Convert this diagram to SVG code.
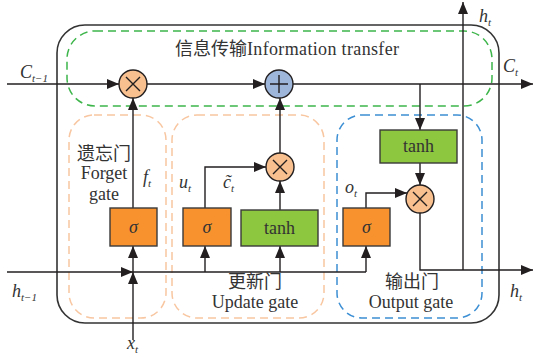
<svg xmlns="http://www.w3.org/2000/svg" width="534" height="358" viewBox="0 0 534 358">
<defs>
<marker id="ar" viewBox="0 0 12 10" refX="12" refY="5" markerWidth="12" markerHeight="10" markerUnits="userSpaceOnUse" orient="auto">
<path d="M0,0 L12,5 L0,10 Z" fill="#231F20"/>
</marker>
</defs>
<style>
.ln{fill:none;stroke:#231F20;stroke-width:1.4}
.arr{marker-end:url(#ar)}
.t{font-family:"Liberation Serif","Noto Sans CJK SC",serif;font-size:18px;fill:#333}
.it{font-family:"Liberation Serif",serif;font-style:italic;font-size:18px;fill:#333}
.sub{font-size:11px}
.sig{fill:#F7922F;stroke:#3a3a3a;stroke-width:1.4}
.tanh{fill:#8DC63F;stroke:#3a3a3a;stroke-width:1.4}
.mul{fill:#F9C08F;stroke:#231F20;stroke-width:1.4}
.add{fill:#9DB6DA;stroke:#231F20;stroke-width:1.4}
.sym{stroke:#231F20;stroke-width:1.4;fill:none}
.dash{fill:none;stroke-width:1.5;stroke-dasharray:8 5}
</style>
<rect width="534" height="358" fill="#fff"/>
<g id="cell"><rect x="57" y="25" width="442" height="298" rx="28" fill="none" stroke="#333" stroke-width="1.6"/></g>
<g id="info-transfer">
<rect class="dash" x="67" y="31" width="425" height="75" rx="28" stroke="#3DB54A"/>
<text class="t" x="175" y="55">信息传输<tspan textLength="152" lengthAdjust="spacing">Information transfer</tspan></text>
</g>
<g id="forget-gate">
<rect class="dash" x="69" y="115" width="97" height="203" rx="25" stroke="#F8C6A0"/>
<text class="t" x="104" y="160" text-anchor="middle">遗忘门</text>
<text class="t" x="104" y="179" text-anchor="middle">Forget</text>
<text class="t" x="104" y="200" text-anchor="middle">gate</text>
</g>
<g id="update-gate">
<rect class="dash" x="172" y="115" width="152" height="203" rx="25" stroke="#F8C6A0"/>
<text class="t" x="255" y="288" text-anchor="middle">更新门</text>
<text class="t" x="255" y="308" text-anchor="middle">Update gate</text>
</g>
<g id="output-gate">
<rect class="dash" x="337" y="115" width="145" height="203" rx="25" stroke="#3C8FD4"/>
<text class="t" x="412" y="288" text-anchor="middle">输出门</text>
<text class="t" x="411" y="308" text-anchor="middle">Output gate</text>
</g>
<g id="connectors">
<path class="ln arr" d="M7,84 H119"/>
<path class="ln arr" d="M147,84 H265"/>
<path class="ln arr" d="M293,84 H533"/>
<path class="ln arr" d="M420,84 V130"/>
<path class="ln arr" d="M420,163 V185"/>
<path class="ln arr" d="M366,208 V193 H407"/>
<path class="ln arr" d="M420,213 V270 H533"/>
<path class="ln arr" d="M463,270 V2"/>
<path class="ln" d="M133,272 H366"/>
<path class="ln arr" d="M7,272 H133"/>
<path class="ln arr" d="M133,340 V272"/>
<path class="ln arr" d="M133,272 V246"/>
<path class="ln arr" d="M133,208 V98"/>
<path class="ln arr" d="M205,272 V246"/>
<path class="ln arr" d="M205,208 V167 H266"/>
<path class="ln arr" d="M280,272 V246"/>
<path class="ln arr" d="M280,210 V181"/>
<path class="ln arr" d="M280,153 V98"/>
<path class="ln arr" d="M366,272 V246"/>
</g>
<g id="mul-forget"><circle class="mul" cx="133" cy="84" r="14"/><path class="sym" d="M126,77 L140,91 M140,77 L126,91"/></g>
<g id="add-cell"><circle class="add" cx="279" cy="84" r="14"/><path class="sym" d="M279,75 V93 M270,84 H288"/></g>
<g id="mul-update"><circle class="mul" cx="280" cy="167" r="14"/><path class="sym" d="M273,160 L287,174 M287,160 L273,174"/></g>
<g id="mul-output"><circle class="mul" cx="420" cy="199" r="14"/><path class="sym" d="M413,192 L427,206 M427,192 L413,206"/></g>
<g id="sigma-forget"><rect class="sig" x="110" y="208" width="47" height="38"/><text class="it" x="133.5" y="233" text-anchor="middle">σ</text></g>
<g id="sigma-update"><rect class="sig" x="183" y="208" width="48" height="38"/><text class="it" x="207" y="233" text-anchor="middle">σ</text></g>
<g id="tanh-update"><rect class="tanh" x="241" y="210" width="77" height="36"/><text class="t" x="279.5" y="234" text-anchor="middle" fill="#231F20">tanh</text></g>
<g id="sigma-output"><rect class="sig" x="343" y="208" width="47" height="38"/><text class="it" x="366.5" y="233" text-anchor="middle">σ</text></g>
<g id="tanh-output"><rect class="tanh" x="380" y="130" width="77" height="33"/><text class="t" x="418.5" y="152" text-anchor="middle" fill="#231F20">tanh</text></g>
<g id="labels">
<text class="it" x="20" y="78">C<tspan class="sub" dy="4">t−1</tspan></text>
<text class="it" x="503" y="72">C<tspan class="sub" dy="4">t</tspan></text>
<text class="it" x="479" y="22">h<tspan class="sub" dy="4">t</tspan></text>
<text class="it" x="510" y="297">h<tspan class="sub" dy="4">t</tspan></text>
<text class="it" x="12" y="297">h<tspan class="sub" dy="4">t−1</tspan></text>
<text class="it" x="127" y="349">x<tspan class="sub" dy="4">t</tspan></text>
<text class="it" x="143" y="183">f<tspan class="sub" dy="4">t</tspan></text>
<text class="it" x="179" y="188">u<tspan class="sub" dy="4">t</tspan></text>
<text class="it" x="223" y="188">c̃<tspan class="sub" dy="4">t</tspan></text>
<text class="it" x="345" y="193">o<tspan class="sub" dy="4">t</tspan></text>
</g>
</svg>
